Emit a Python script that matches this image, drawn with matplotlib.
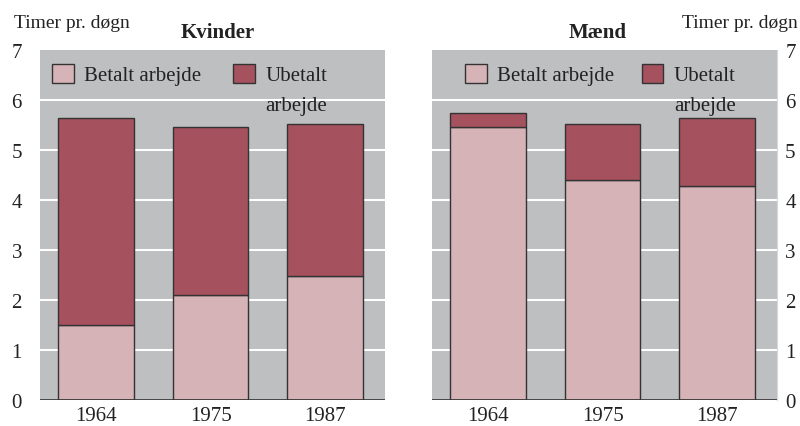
import numpy as np
import matplotlib
matplotlib.use("Agg")
import matplotlib.pyplot as plt

plt.rcParams['font.family'] = ['Liberation Serif', 'DejaVu Serif']

years = ['1964', '1975', '1987']
kvinder_betalt = [1.5, 2.1, 2.47]
kvinder_ubetalt = [4.13, 3.36, 3.04]
maend_betalt = [5.45, 4.4, 4.27]
maend_ubetalt = [0.28, 1.11, 1.36]
yticks = [0, 1, 2, 3, 4, 5, 6, 7]

light = '#d6b3b7'
dark = '#a6525e'
bg = '#bebfc1'
txt = '#222222'

fig = plt.figure(figsize=(8, 4.27), dpi=100)
ax1 = fig.add_axes([0.05, 0.0609, 0.431, 0.8197])
ax2 = fig.add_axes([0.54, 0.0609, 0.431, 0.8197])

x = np.arange(len(years))


def draw(ax, betalt, ubetalt, title, title_x, right=False, leg_x=0.035, colsp=1.3):
    ax.set_facecolor(bg)
    for y in yticks[1:-1]:
        ax.axhline(y, color='white', lw=1.5, zorder=1)
    ax.bar(x, betalt, width=0.66, color=light, edgecolor='#333333', lw=1,
           zorder=2, label='Betalt arbejde')
    ax.bar(x, ubetalt, width=0.66, bottom=betalt, color=dark, edgecolor='#333333',
           lw=1, zorder=2, label='Ubetalt')
    ax.axhline(0, color='#333333', lw=1.2, zorder=3)
    ax.set_xlim(-0.49, 2.52)
    ax.set_ylim(0, 7)
    ax.set_xticks(x)
    ax.set_xticklabels(years, fontsize=15, color=txt)
    ax.set_yticks(yticks)
    ax.tick_params(length=0, labelsize=15, labelcolor=txt)
    ax.tick_params(axis='x', pad=4)
    ax.tick_params(axis='y', pad=13)
    for s in ax.spines.values():
        s.set_visible(False)
    if right:
        ax.yaxis.tick_right()
        ax.spines['right'].set_visible(True)
        ax.spines['right'].set_color('#d8d8d8')
        ax.tick_params(axis='y', pad=6)
    ax.set_title(title, fontsize=15, fontweight='bold', color=txt, pad=9, x=title_x)
    leg = ax.legend(loc='upper left', bbox_to_anchor=(leg_x, 0.96), ncol=2,
                    frameon=False, fontsize=15, handlelength=1.05, handleheight=1.0,
                    handletextpad=0.5, columnspacing=colsp, borderaxespad=0,
                    borderpad=0)
    for t in leg.get_texts():
        t.set_color(txt)
    return leg


leg1 = draw(ax1, kvinder_betalt, kvinder_ubetalt, 'Kvinder', 0.516, leg_x=0.035, colsp=1.5)
leg2 = draw(ax2, maend_betalt, maend_ubetalt, 'Mænd', 0.481, right=True, leg_x=0.096, colsp=1.3)

fig.text(0.018, 0.945, 'Timer pr. døgn', fontsize=14, color=txt, va='center')
fig.text(0.997, 0.945, 'Timer pr. døgn', fontsize=14, color=txt, va='center', ha='right')

# second line of the "Ubetalt arbejde" legend label, placed under the first line
fig.canvas.draw()
inv = fig.transFigure.inverted()
for leg in (leg1, leg2):
    bb = leg.get_texts()[1].get_window_extent()
    x0, y0 = inv.transform((bb.x0, bb.y0))
    fig.text(x0, y0 - 0.024, 'arbejde', fontsize=15, color=txt, va='top', ha='left')

fig.savefig('out.png', dpi=100)
